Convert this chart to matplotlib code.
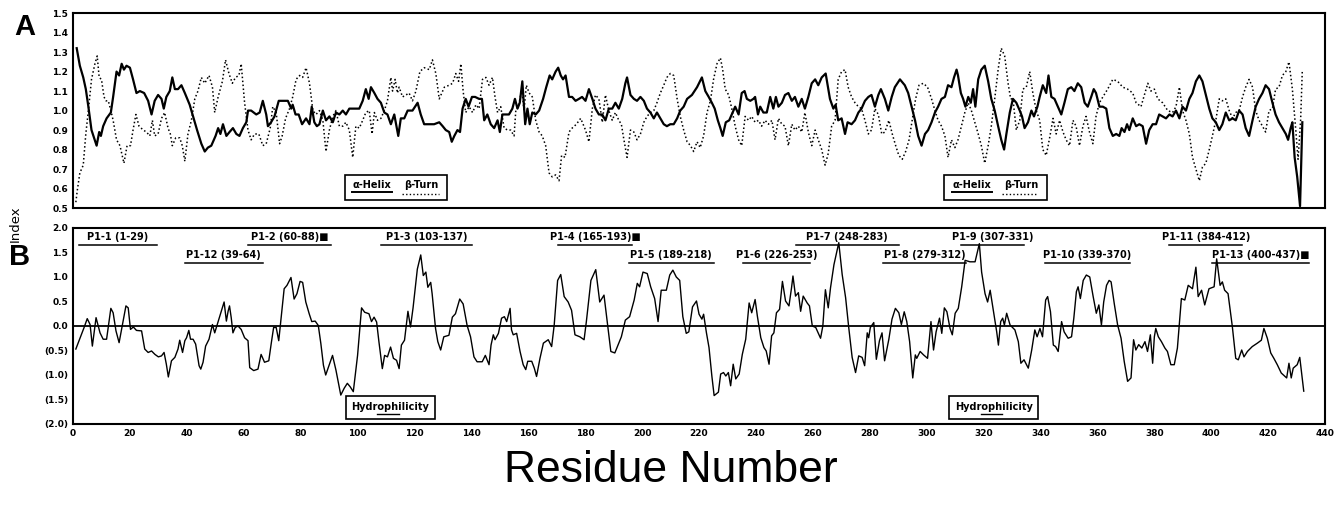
import numpy as np
import matplotlib.pyplot as plt
from matplotlib.patches import Rectangle
from matplotlib.lines import Line2D

# ---- data (residue, index) ----
helix = [
    (1.3, 1.32), (2.4, 1.23), (3.6, 1.17), (4.5, 1.11), (5.4, 1.02), (6.5, 0.90), (7.4, 0.86), (8.3, 0.82),
    (9.2, 0.89), (9.8, 0.87), (10.6, 0.92), (11.8, 0.96), (13.3, 0.99), (14.1, 1.07), (15.3, 1.20), (16.2, 1.18),
    (17.1, 1.24), (17.9, 1.21), (18.8, 1.23), (20.0, 1.22), (21.1, 1.16), (22.3, 1.09), (23.5, 1.10), (25.0, 1.09),
    (26.4, 1.05), (27.6, 0.98), (28.7, 1.05), (29.9, 1.08), (31.1, 1.06), (31.9, 1.01), (32.8, 1.07), (34.0, 1.10),
    (34.9, 1.17), (35.8, 1.11), (36.9, 1.11), (38.1, 1.13), (39.3, 1.09), (41.0, 1.03), (42.2, 0.97), (43.6, 0.90),
    (45.1, 0.83), (46.3, 0.79), (47.4, 0.81), (48.6, 0.82), (50.1, 0.87), (51.0, 0.91), (51.8, 0.88), (52.7, 0.93),
    (53.9, 0.87), (55.0, 0.89), (56.2, 0.91), (57.4, 0.88), (58.5, 0.87), (59.7, 0.91), (60.9, 0.94), (61.5, 1.00),
    (62.6, 1.00), (64.4, 0.98), (65.6, 0.99), (66.7, 1.05), (67.9, 0.98), (68.5, 0.92), (69.6, 0.94), (70.8, 0.97),
    (72.3, 1.05), (73.7, 1.05), (75.5, 1.05), (76.7, 1.01), (77.2, 1.03), (78.2, 0.98), (79.3, 0.98), (80.5, 0.93),
    (81.9, 0.96), (83.1, 0.93), (83.9, 1.02), (84.8, 0.94), (85.7, 0.92), (86.6, 0.93), (87.8, 1.00), (88.9, 0.95),
    (90.1, 0.97), (91.3, 0.94), (92.4, 0.99), (93.6, 0.98), (94.8, 1.00), (95.9, 0.98), (97.1, 1.01), (98.9, 1.01),
    (100.6, 1.01), (101.8, 1.05), (102.9, 1.11), (103.9, 1.06), (104.7, 1.12), (105.9, 1.09), (107.0, 1.06),
    (108.2, 1.04), (109.4, 0.99), (110.5, 0.98), (111.7, 0.93), (112.9, 0.98), (114.3, 0.87), (115.2, 0.96),
    (116.4, 0.96), (117.6, 1.00), (119.3, 1.00), (121.1, 1.04), (122.2, 0.98), (123.4, 0.93), (125.2, 0.93),
    (126.9, 0.93), (128.7, 0.94), (129.9, 0.92), (131.0, 0.90), (132.2, 0.89), (133.1, 0.84), (134.0, 0.87),
    (135.1, 0.90), (136.0, 0.89), (136.9, 1.01), (138.0, 1.06), (139.0, 1.02), (140.2, 1.07), (141.3, 1.07),
    (142.7, 1.06), (143.7, 1.06), (144.5, 0.95), (145.6, 0.98), (146.8, 0.93), (148.0, 0.91), (149.2, 0.95),
    (150.0, 0.89), (150.9, 0.98), (152.1, 0.98), (153.2, 0.98), (154.4, 1.01), (155.3, 1.06), (156.2, 1.01),
    (157.0, 1.04), (157.9, 1.15), (158.9, 0.93), (159.7, 1.01), (160.5, 0.93), (161.4, 0.99), (162.6, 0.98),
    (163.8, 1.00), (165.2, 1.06), (166.3, 1.12), (167.5, 1.18), (168.4, 1.16), (169.6, 1.20), (170.5, 1.22),
    (171.4, 1.18), (172.2, 1.16), (173.1, 1.18), (174.3, 1.07), (175.4, 1.07), (176.6, 1.05), (177.8, 1.06),
    (178.9, 1.07), (180.1, 1.05), (181.3, 1.11), (182.5, 1.06), (183.6, 1.01), (184.8, 0.98), (186.0, 0.98),
    (187.1, 0.95), (188.3, 1.01), (189.5, 1.01), (190.6, 1.04), (191.8, 1.01), (193.0, 1.06), (194.1, 1.14),
    (194.7, 1.17), (195.9, 1.08), (197.1, 1.06), (198.2, 1.05), (199.4, 1.07), (200.6, 1.05), (201.7, 1.01),
    (202.9, 0.99), (204.1, 0.96), (205.2, 0.99), (206.4, 0.96), (207.6, 0.93), (208.7, 0.92), (209.9, 0.93),
    (211.1, 0.93), (212.3, 0.96), (213.4, 1.00), (214.6, 1.02), (215.8, 1.06), (217.5, 1.08), (219.3, 1.12),
    (221.0, 1.17), (222.2, 1.10), (223.4, 1.07), (224.5, 1.04), (225.5, 1.01), (226.6, 0.95), (227.5, 0.91),
    (228.3, 0.87), (229.4, 0.94), (230.6, 0.95), (231.5, 0.98), (232.7, 1.02), (233.9, 0.98), (235.0, 1.09),
    (236.0, 1.10), (236.8, 1.06), (238.0, 1.05), (239.1, 1.06), (239.7, 1.07), (240.7, 0.98), (241.5, 1.02),
    (242.6, 0.99), (243.8, 0.99), (245.0, 1.07), (246.1, 1.01), (247.0, 1.07), (247.9, 1.02), (249.1, 1.04),
    (250.2, 1.08), (251.4, 1.09), (252.6, 1.05), (253.7, 1.07), (254.9, 1.02), (256.1, 1.06), (257.2, 1.01),
    (258.4, 1.07), (259.6, 1.14), (260.8, 1.16), (261.9, 1.13), (263.1, 1.17), (264.5, 1.19), (266.0, 1.06),
    (267.2, 1.01), (268.0, 1.03), (268.9, 0.95), (270.1, 0.96), (271.3, 0.88), (272.2, 0.94), (273.6, 0.93),
    (274.8, 0.95), (276.0, 0.99), (277.1, 1.01), (278.3, 1.05), (279.5, 1.07), (280.6, 1.08), (281.8, 1.02),
    (283.0, 1.08), (283.9, 1.11), (285.3, 1.06), (286.5, 1.00), (287.7, 1.07), (288.8, 1.12), (290.6, 1.16),
    (292.3, 1.13), (293.5, 1.09), (294.7, 1.02), (295.9, 0.95), (297.0, 0.87), (298.2, 0.82), (299.4, 0.88),
    (300.5, 0.90), (301.7, 0.94), (302.9, 0.99), (304.0, 1.02), (305.2, 1.06), (306.4, 1.07), (307.5, 1.13),
    (308.7, 1.12), (309.6, 1.17), (310.5, 1.21), (311.0, 1.18), (312.0, 1.09), (312.8, 1.06), (313.6, 1.02),
    (314.6, 1.07), (315.5, 1.04), (316.3, 1.11), (317.1, 1.02), (318.1, 1.16), (319.2, 1.21), (320.4, 1.23),
    (321.6, 1.15), (322.7, 1.06), (323.9, 1.00), (325.1, 0.92), (326.2, 0.85), (327.2, 0.80), (328.0, 0.88),
    (329.2, 0.99), (330.3, 1.06), (331.5, 1.04), (332.7, 1.00), (333.5, 0.97), (334.4, 0.91), (335.6, 0.94),
    (336.8, 1.00), (337.7, 0.97), (338.9, 1.02), (339.7, 1.07), (340.8, 1.13), (342.0, 1.09), (342.8, 1.18),
    (343.8, 1.07), (344.9, 1.06), (346.1, 1.02), (347.3, 0.98), (348.4, 1.04), (349.6, 1.11), (350.8, 1.12),
    (351.9, 1.10), (353.1, 1.14), (354.3, 1.12), (355.5, 1.04), (356.6, 1.02), (357.8, 1.07), (358.7, 1.11),
    (359.5, 1.09), (360.7, 1.02), (361.9, 1.02), (363.1, 1.01), (364.2, 0.91), (365.4, 0.87), (366.6, 0.88),
    (367.7, 0.87), (368.5, 0.91), (369.5, 0.89), (370.4, 0.93), (371.2, 0.90), (372.4, 0.96), (373.6, 0.92),
    (374.7, 0.93), (375.9, 0.92), (377.1, 0.83), (378.2, 0.90), (379.4, 0.93), (380.6, 0.93), (381.7, 0.98),
    (382.9, 0.97), (384.1, 0.96), (385.3, 0.98), (386.4, 0.97), (387.6, 1.00), (388.8, 0.96), (389.9, 1.02),
    (391.1, 1.00), (392.3, 1.06), (393.4, 1.09), (394.6, 1.15), (395.8, 1.18), (396.9, 1.15), (398.1, 1.08),
    (399.3, 1.01), (400.4, 0.96), (401.6, 0.94), (402.8, 0.90), (403.9, 0.93), (405.1, 0.99), (406.3, 0.95),
    (407.5, 0.96), (408.6, 0.95), (409.8, 1.00), (411.0, 0.98), (412.1, 0.91), (413.3, 0.87), (414.5, 0.95),
    (415.6, 1.02), (416.8, 1.06), (418.0, 1.09), (419.1, 1.13), (420.3, 1.11), (421.5, 1.04), (422.6, 0.98),
    (423.8, 0.94), (425.0, 0.91), (426.2, 0.88), (427.0, 0.85), (427.9, 0.91), (428.5, 0.94), (429.3, 0.76),
    (430.2, 0.66), (431.2, 0.51), (432.0, 0.94),
]

turn = [
    (1.0, 0.53), (1.5, 0.59), (2.4, 0.68), (3.6, 0.72), (4.5, 0.88), (5.4, 1.00), (6.5, 1.16), (7.7, 1.24),
    (8.5, 1.28), (9.2, 1.17), (10.0, 1.16), (10.9, 1.07), (11.6, 1.05), (12.4, 1.05), (13.3, 1.00), (14.1, 0.95),
    (15.3, 0.85), (16.5, 0.82), (17.9, 0.73), (19.0, 0.82), (20.2, 0.82), (21.1, 0.90), (22.1, 0.98), (23.2, 0.92),
    (24.7, 0.90), (25.8, 0.89), (27.0, 0.87), (27.9, 0.95), (28.7, 0.87), (29.9, 0.88), (31.1, 0.96), (32.2, 0.99),
    (33.4, 0.91), (34.2, 0.88), (34.9, 0.82), (36.1, 0.86), (37.5, 0.86), (38.4, 0.82), (39.3, 0.74), (40.4, 0.88),
    (41.6, 0.95), (42.8, 1.06), (43.9, 1.10), (45.1, 1.17), (46.3, 1.14), (47.8, 1.18), (49.0, 1.12), (49.8, 0.99),
    (51.0, 1.07), (52.5, 1.15), (53.6, 1.26), (54.8, 1.19), (56.0, 1.14), (57.1, 1.17), (58.3, 1.18), (59.1, 1.24),
    (60.3, 1.04), (61.5, 0.90), (62.6, 0.85), (63.8, 0.88), (65.3, 0.88), (66.7, 0.82), (67.9, 0.83), (69.3, 0.91),
    (70.2, 1.02), (71.4, 0.99), (72.6, 0.83), (73.5, 0.87), (74.7, 0.96), (76.1, 1.01), (77.2, 1.07), (78.4, 1.16),
    (79.6, 1.18), (80.7, 1.17), (81.9, 1.22), (83.1, 1.14), (84.3, 1.00), (85.4, 0.98), (86.6, 1.00), (87.8, 0.95),
    (88.9, 0.79), (90.1, 0.90), (91.3, 0.97), (92.4, 1.00), (93.6, 0.92), (94.8, 0.92), (95.9, 0.94), (97.1, 0.90),
    (98.3, 0.76), (99.4, 0.92), (100.6, 0.91), (101.8, 0.95), (102.9, 0.99), (104.1, 1.00), (105.1, 0.88),
    (105.9, 0.99), (107.0, 0.95), (108.2, 0.96), (109.4, 1.00), (110.5, 1.05), (111.7, 1.17), (112.3, 1.10),
    (113.2, 1.16), (114.0, 1.09), (114.6, 1.12), (115.8, 1.07), (117.0, 1.08), (118.1, 1.09), (119.3, 1.05),
    (120.5, 1.10), (121.9, 1.20), (123.4, 1.22), (125.2, 1.21), (126.3, 1.26), (127.5, 1.19), (128.7, 1.06),
    (130.5, 1.12), (132.2, 1.13), (133.4, 1.14), (134.5, 1.19), (135.5, 1.15), (136.3, 1.24), (137.1, 1.10),
    (138.0, 0.99), (139.2, 1.02), (140.4, 0.99), (141.6, 1.03), (142.7, 1.01), (143.9, 1.16), (145.1, 1.17),
    (146.2, 1.13), (147.4, 1.17), (148.3, 1.07), (149.2, 0.99), (150.3, 1.02), (151.5, 0.91), (152.7, 0.90),
    (153.8, 0.90), (155.0, 0.87), (155.6, 1.00), (156.7, 1.03), (157.7, 1.11), (158.5, 1.00), (159.3, 1.13),
    (160.3, 1.09), (161.4, 1.07), (162.6, 0.95), (163.8, 0.89), (164.9, 0.87), (166.1, 0.82), (167.3, 0.68),
    (168.4, 0.66), (169.6, 0.67), (170.8, 0.64), (171.7, 0.77), (172.9, 0.76), (174.3, 0.89), (175.4, 0.91),
    (176.9, 0.93), (178.4, 0.96), (180.1, 0.90), (181.3, 0.84), (182.5, 1.01), (183.6, 1.08), (184.8, 1.06),
    (186.0, 0.94), (187.1, 1.08), (188.3, 1.00), (189.5, 0.95), (190.6, 0.99), (191.8, 0.95), (192.7, 0.93),
    (193.6, 0.85), (194.7, 0.76), (195.9, 0.90), (197.1, 0.89), (198.2, 0.85), (199.4, 0.88), (200.6, 0.94),
    (201.7, 0.97), (202.9, 0.99), (204.1, 1.00), (205.2, 1.04), (206.4, 1.09), (207.6, 1.13), (208.7, 1.17),
    (209.9, 1.19), (211.1, 1.18), (212.3, 1.06), (213.4, 0.97), (214.6, 0.90), (215.8, 0.84), (217.0, 0.82),
    (218.1, 0.79), (219.3, 0.84), (220.4, 0.81), (221.6, 0.87), (222.8, 0.99), (224.0, 1.05), (225.1, 1.16),
    (226.3, 1.24), (227.5, 1.27), (228.3, 1.21), (229.2, 1.11), (230.4, 1.08), (231.5, 1.01), (232.7, 0.92),
    (233.9, 0.85), (235.0, 0.82), (236.2, 0.97), (237.4, 0.95), (238.5, 0.97), (239.7, 0.94), (240.9, 0.95),
    (242.0, 0.92), (243.2, 0.95), (244.4, 0.93), (245.6, 0.95), (246.7, 0.85), (247.9, 0.96), (249.1, 0.93),
    (250.2, 0.92), (251.4, 0.82), (252.6, 0.93), (253.7, 0.90), (254.9, 0.92), (256.1, 0.89), (257.2, 0.99),
    (258.4, 0.89), (259.6, 0.82), (260.8, 0.90), (261.9, 0.85), (263.1, 0.80), (264.3, 0.72), (265.4, 0.78),
    (266.6, 0.92), (267.8, 0.95), (268.9, 1.16), (270.1, 1.20), (271.3, 1.21), (272.4, 1.12), (273.6, 1.07),
    (274.8, 1.04), (276.0, 1.02), (277.1, 1.01), (278.3, 0.95), (279.5, 0.88), (280.6, 0.90), (281.8, 1.01),
    (283.0, 0.98), (284.2, 0.88), (285.3, 0.89), (286.7, 0.95), (287.9, 0.88), (289.1, 0.82), (290.2, 0.77),
    (291.4, 0.75), (292.6, 0.79), (293.8, 0.85), (294.9, 0.95), (296.1, 1.06), (297.3, 1.13), (298.8, 1.14),
    (300.3, 1.12), (301.7, 1.06), (302.9, 1.00), (304.0, 0.95), (305.2, 0.92), (306.4, 0.87), (307.5, 0.76),
    (308.7, 0.85), (309.9, 0.81), (311.0, 0.85), (312.2, 0.92), (313.4, 0.99), (314.6, 1.04), (315.7, 1.00),
    (316.9, 0.94), (318.1, 0.88), (319.2, 0.82), (320.4, 0.73), (321.6, 0.82), (322.7, 0.92), (323.9, 1.06),
    (325.1, 1.21), (326.2, 1.32), (327.4, 1.28), (328.6, 1.14), (329.5, 1.06), (330.3, 1.06), (331.5, 0.90),
    (332.7, 0.95), (333.8, 1.11), (335.0, 1.12), (336.2, 1.20), (337.3, 1.09), (338.5, 1.00), (339.7, 0.95),
    (340.8, 0.80), (342.0, 0.77), (343.2, 0.86), (344.4, 0.96), (345.5, 0.88), (346.7, 0.95), (347.9, 0.89),
    (349.0, 0.85), (350.2, 0.82), (351.4, 0.95), (352.5, 0.92), (353.7, 0.82), (354.9, 0.92), (356.0, 0.97),
    (357.2, 0.89), (358.4, 0.83), (359.5, 0.97), (360.7, 1.04), (361.9, 1.07), (363.6, 1.11), (365.4, 1.16),
    (367.1, 1.15), (368.9, 1.12), (370.6, 1.11), (372.4, 1.09), (373.6, 1.04), (375.3, 1.02), (376.5, 1.08),
    (377.7, 1.14), (378.8, 1.10), (380.0, 1.11), (381.2, 1.06), (382.9, 1.04), (384.7, 1.00), (386.4, 0.99),
    (387.6, 1.02), (388.8, 1.12), (389.9, 1.00), (391.1, 0.95), (392.3, 0.88), (393.4, 0.76), (394.6, 0.70),
    (395.8, 0.64), (396.9, 0.71), (398.1, 0.73), (399.3, 0.80), (400.4, 0.87), (401.6, 0.95), (402.8, 1.06),
    (403.9, 1.05), (405.1, 1.06), (406.3, 1.00), (407.5, 0.96), (408.6, 0.99), (409.8, 1.00), (411.0, 1.07),
    (412.1, 1.12), (413.3, 1.16), (414.5, 1.12), (415.6, 1.00), (416.8, 0.95), (418.0, 0.92), (419.1, 0.89),
    (420.3, 1.00), (421.5, 1.01), (422.6, 1.11), (423.8, 1.12), (425.0, 1.18), (426.2, 1.20), (427.3, 1.25),
    (428.5, 1.11), (429.7, 0.90), (430.5, 0.75), (431.4, 0.95), (432.0, 1.21),
]

hydro = [
    (1.0, -0.47), (2.5, -0.24), (3.9, -0.03), (5.0, 0.15), (6.0, 0.03), (6.8, -0.41), (8.1, 0.17), (9.5, -0.14),
    (10.6, -0.27), (11.8, -0.27), (13.3, 0.36), (14.1, 0.27), (15.1, -0.10), (16.2, -0.34), (17.4, 0.03),
    (18.6, 0.41), (19.4, 0.37), (20.2, -0.07), (21.2, -0.02), (22.3, -0.09), (24.1, -0.10), (25.2, -0.47),
    (26.4, -0.54), (27.6, -0.51), (28.8, -0.58), (30.0, -0.63), (31.1, -0.61), (32.0, -0.54), (32.8, -0.78),
    (33.5, -1.04), (34.6, -0.71), (35.8, -0.64), (36.9, -0.47), (37.5, -0.29), (38.5, -0.54), (39.3, -0.30),
    (39.9, -0.24), (40.7, -0.09), (41.3, -0.27), (42.2, -0.27), (43.1, -0.37), (44.3, -0.81), (44.9, -0.88),
    (45.7, -0.74), (46.6, -0.41), (47.8, -0.27), (49.0, 0.03), (49.8, -0.14), (50.7, 0.03), (52.1, 0.30),
    (53.1, 0.49), (53.9, 0.10), (54.5, 0.30), (55.0, 0.41), (55.6, 0.17), (56.2, -0.14), (57.0, -0.03),
    (58.0, 0.00), (59.1, -0.07), (60.3, -0.24), (61.5, -0.30), (62.1, -0.85), (63.5, -0.91), (65.0, -0.88),
    (66.1, -0.58), (67.3, -0.74), (68.8, -0.71), (69.7, -0.34), (70.5, -0.03), (71.4, -0.03), (72.3, -0.30),
    (73.0, 0.09), (74.2, 0.76), (75.2, 0.83), (76.6, 0.99), (77.7, 0.55), (78.7, 0.66), (79.8, 0.91),
    (80.7, 0.89), (81.8, 0.49), (83.0, 0.25), (83.9, 0.09), (85.1, 0.10), (86.2, 0.01), (87.1, -0.36),
    (88.0, -0.80), (88.8, -1.00), (90.0, -0.80), (91.2, -0.60), (92.4, -0.90), (94.1, -1.41), (95.3, -1.27),
    (96.4, -1.17), (97.4, -1.24), (98.5, -1.34), (100.0, -0.60), (101.4, 0.37), (102.5, 0.28), (104.0, 0.25),
    (104.9, 0.09), (105.8, 0.18), (106.7, 0.08), (107.5, -0.32), (108.7, -0.87), (109.5, -0.60), (110.5, -0.63),
    (111.6, -0.43), (112.6, -0.66), (113.7, -0.70), (114.6, -0.87), (115.4, -0.39), (116.5, -0.29), (117.7, 0.30),
    (118.6, -0.02), (119.5, 0.37), (121.0, 1.16), (122.2, 1.45), (123.1, 1.03), (124.0, 1.10), (124.7, 0.79),
    (125.7, 0.89), (126.2, 0.66), (127.4, -0.05), (128.2, -0.32), (129.2, -0.49), (130.3, -0.22), (132.1, -0.19),
    (133.3, 0.18), (134.4, 0.25), (135.9, 0.55), (137.1, 0.45), (138.5, 0.01), (139.7, -0.22), (140.9, -0.63),
    (142.0, -0.73), (143.8, -0.73), (144.9, -0.60), (146.2, -0.79), (146.9, -0.39), (147.7, -0.18), (148.3, -0.28),
    (149.5, -0.15), (150.6, 0.16), (151.6, 0.19), (152.4, 0.09), (153.6, 0.36), (154.1, -0.08), (154.7, -0.18),
    (155.9, -0.15), (157.1, -0.52), (158.2, -0.79), (159.1, -0.89), (159.8, -0.72), (161.2, -0.72), (162.1, -0.86),
    (162.9, -1.03), (164.1, -0.66), (165.3, -0.35), (167.0, -0.28), (168.2, -0.42), (169.1, 0.02), (170.3, 0.93),
    (171.4, 1.05), (172.6, 0.60), (174.0, 0.49), (175.2, 0.32), (176.4, -0.18), (178.1, -0.22), (179.6, -0.28),
    (180.4, 0.09), (182.0, 0.93), (183.7, 1.15), (185.1, 0.49), (186.6, 0.63), (188.0, -0.05), (189.0, -0.52),
    (190.4, -0.55), (191.5, -0.39), (192.7, -0.22), (194.1, 0.12), (195.6, 0.19), (197.2, 0.53), (198.3, 0.87),
    (199.1, 0.80), (200.3, 1.10), (201.8, 1.07), (203.0, 0.80), (204.4, 0.56), (205.6, 0.09), (206.7, 0.73),
    (208.5, 0.73), (209.7, 1.04), (210.8, 1.14), (212.0, 1.00), (213.2, 0.93), (214.3, 0.19), (215.5, -0.15),
    (216.4, -0.12), (217.7, 0.39), (219.1, 0.51), (220.0, 0.24), (221.0, 0.14), (221.6, 0.24), (222.6, -0.14),
    (223.5, -0.44), (224.5, -1.02), (225.3, -1.42), (226.8, -1.35), (227.6, -0.98), (228.6, -0.95), (229.4, -1.02),
    (230.3, -0.95), (231.1, -1.22), (232.0, -0.78), (232.9, -1.08), (234.1, -0.98), (235.2, -0.58), (236.4, -0.27),
    (237.6, 0.47), (238.5, 0.27), (239.7, 0.54), (240.5, 0.20), (241.7, -0.24), (242.8, -0.44), (243.6, -0.51),
    (244.6, -0.78), (245.5, -0.20), (246.3, -0.14), (247.2, 0.27), (248.3, 0.34), (249.3, 0.91), (250.4, 0.51),
    (251.6, 0.41), (252.5, 0.78), (253.0, 1.02), (253.9, 0.61), (254.9, 0.68), (255.7, 0.30), (256.6, 0.61),
    (258.0, 0.47), (258.8, 0.41), (259.8, 0.00), (261.0, -0.03), (262.1, -0.17), (262.7, -0.25), (263.5, 0.00),
    (264.4, 0.74), (265.4, 0.37), (266.2, 0.78), (267.4, 1.25), (268.3, 1.49), (269.1, 1.70), (270.3, 1.05),
    (271.5, 0.58), (272.6, -0.03), (273.8, -0.64), (275.0, -0.95), (276.1, -0.61), (277.3, -0.64), (278.2, -0.81),
    (279.1, -0.14), (279.6, -0.24), (280.2, -0.03), (281.4, 0.07), (282.3, -0.68), (283.4, -0.30), (284.3, -0.14),
    (285.2, -0.71), (286.7, -0.27), (287.8, 0.14), (289.0, 0.36), (290.2, 0.27), (291.1, 0.03), (292.1, 0.29),
    (293.0, 0.09), (294.0, -0.32), (295.1, -1.06), (296.0, -0.59), (296.5, -0.66), (297.7, -0.52), (298.9, -0.59),
    (300.3, -0.66), (301.5, 0.09), (302.4, -0.49), (303.3, -0.12), (304.5, 0.16), (305.3, -0.15), (306.2, 0.37),
    (307.1, 0.29), (308.2, -0.05), (309.0, -0.18), (310.0, 0.26), (311.1, 0.36), (312.3, 0.80), (313.5, 1.34),
    (315.2, 1.31), (317.0, 1.31), (318.5, 1.68), (319.3, 1.10), (320.5, 0.66), (321.4, 0.49), (322.3, 0.73),
    (323.4, 0.32), (324.6, -0.12), (325.2, -0.39), (326.0, 0.09), (326.7, 0.16), (327.3, 0.02), (328.1, 0.26),
    (329.3, 0.02), (331.0, -0.08), (332.2, -0.32), (333.1, -0.76), (334.2, -0.69), (335.7, -0.86), (336.9, -0.49),
    (338.0, -0.08), (338.8, -0.22), (339.8, -0.05), (340.7, -0.22), (341.8, 0.53), (342.5, 0.60), (343.5, 0.29),
    (344.5, -0.39), (345.3, -0.42), (346.2, -0.52), (347.4, 0.09), (348.3, -0.12), (349.7, -0.25), (350.9, -0.22),
    (351.7, 0.16), (352.6, 0.70), (353.2, 0.80), (354.0, 0.56), (355.0, 0.93), (356.1, 1.04), (357.3, 1.00),
    (358.5, 0.60), (359.6, 0.26), (360.5, 0.43), (361.4, 0.02), (362.2, 0.49), (363.2, 0.83), (364.1, 0.93),
    (364.8, 0.90), (365.9, 0.46), (367.1, 0.02), (368.3, -0.25), (369.4, -0.72), (370.6, -1.13), (371.8, -1.06),
    (372.7, -0.28), (373.5, -0.49), (374.5, -0.38), (375.6, -0.45), (376.7, -0.32), (377.6, -0.52), (378.6, -0.18),
    (379.4, -0.76), (380.0, -0.22), (380.5, -0.05), (381.4, -0.22), (382.5, -0.32), (383.7, -0.45), (384.6, -0.52),
    (385.8, -0.79), (387.0, -0.79), (388.1, -0.45), (389.5, 0.56), (390.7, 0.53), (391.9, 0.83), (393.4, 0.76),
    (394.6, 1.20), (395.4, 0.60), (396.6, 0.73), (397.7, 0.43), (399.2, 0.76), (401.0, 0.80), (401.9, 1.37),
    (403.1, 0.83), (403.9, 0.90), (404.7, 0.73), (405.9, 0.66), (407.4, -0.01), (408.6, -0.66), (409.5, -0.69),
    (410.7, -0.49), (411.5, -0.63), (412.7, -0.52), (414.4, -0.42), (416.2, -0.35), (417.6, -0.29), (418.5, -0.05),
    (419.7, -0.25), (420.9, -0.55), (422.0, -0.66), (423.2, -0.79), (424.6, -0.96), (426.5, -1.06), (427.3, -0.76),
    (428.1, -1.06), (428.8, -0.86), (430.2, -0.79), (431.1, -0.64), (432.5, -1.33),
]

# peptides: label, marked with a square, row (0 = upper, 1 = lower)
pep_labels = ["P1-1 (1-29)", "P1-12 (39-64)", "P1-2 (60-88)", "P1-3 (103-137)", "P1-4 (165-193)",
              "P1-5 (189-218)", "P1-6 (226-253)", "P1-7 (248-283)", "P1-8 (279-312)", "P1-9 (307-331)",
              "P1-10 (339-370)", "P1-11 (384-412)", "P1-13 (400-437)"]
pep_marked = [False, False, True, False, True, False, False, False, False, False, False, False, True]
pep_row = [0, 1, 0, 0, 0, 1, 1, 0, 1, 0, 1, 0, 1]
# where the underline bars sit on the printed axis
pep_spans = [(2, 29.5), (39.3, 66.6), (61.4, 90.8), (108.3, 140.3), (170.4, 196.4), (195.3, 225.1),
             (235.3, 259.1), (253.9, 290.3), (284.7, 313.8), (312.1, 334.2), (341.5, 371.3),
             (385.3, 410.9), (400.4, 434.4)]

a_ticks = [0.5, 0.6, 0.7, 0.8, 0.9, 1.0, 1.1, 1.2, 1.3, 1.4, 1.5]
b_ticks = [2.0, 1.5, 1.0, 0.5, 0.0, -0.5, -1.0, -1.5, -2.0]
b_ticklabels = ["2.0", "1.5", "1.0", "0.5", "0.0", "(0.5)", "(1.0)", "(1.5)", "(2.0)"]
x_ticks = list(range(0, 441, 20))

# ---- figure ----
plt.rcParams["font.family"] = "DejaVu Sans"
fig = plt.figure(figsize=(13.42, 5.15), dpi=100)
axA = fig.add_axes([0.0544, 0.596, 0.933, 0.3786])
axB = fig.add_axes([0.0544, 0.1767, 0.933, 0.3806])

hx, hy = zip(*helix)
tx, ty = zip(*turn)
bx, by = zip(*hydro)

axA.plot(hx, hy, color="black", lw=1.6, solid_joinstyle="round")
axA.plot(tx, ty, color="black", lw=1.1, linestyle=(0, (1, 1.6)))
axA.set_xlim(0, 440)
axA.set_ylim(0.5, 1.5)
axA.set_xticks([])
axA.set_yticks(a_ticks)
axA.set_yticklabels([f"{t:.1f}" for t in a_ticks])

axB.plot(bx, by, color="black", lw=1.0)
axB.axhline(0, color="black", lw=1.3)
axB.set_xlim(0, 440)
axB.set_ylim(-2.0, 2.0)
axB.set_yticks(b_ticks)
axB.set_yticklabels(b_ticklabels)
axB.set_xticks(x_ticks)

for ax in (axA, axB):
    for sp in ax.spines.values():
        sp.set_linewidth(1.5)
    ax.tick_params(length=0, labelsize=6.5, pad=3.5)
    for lab in ax.get_xticklabels() + ax.get_yticklabels():
        lab.set_fontweight("bold")

# legend boxes in panel A
for x0 in (0.217, 0.696):
    axA.add_patch(Rectangle((x0, 0.041), 0.082, 0.128, transform=axA.transAxes,
                            fill=False, lw=1.2, ec="black"))
    axA.text(x0 + 0.0215, 0.118, "α-Helix", transform=axA.transAxes, ha="center", va="center",
             fontsize=7, fontweight="bold")
    axA.add_line(Line2D([x0 + 0.006, x0 + 0.038], [0.080, 0.080], transform=axA.transAxes,
                        color="black", lw=1.4))
    axA.text(x0 + 0.061, 0.118, "β-Turn", transform=axA.transAxes, ha="center", va="center",
             fontsize=7, fontweight="bold")
    axA.add_line(Line2D([x0 + 0.046, x0 + 0.075], [0.070, 0.070], transform=axA.transAxes,
                        color="black", lw=1.0, linestyle=(0, (1, 1.6))))

# hydrophilicity boxes in panel B
for x0 in (0.218, 0.700):
    axB.add_patch(Rectangle((x0, 0.026), 0.071, 0.117, transform=axB.transAxes,
                            fill=False, lw=1.2, ec="black"))
    axB.text(x0 + 0.0355, 0.088, "Hydrophilicity", transform=axB.transAxes, ha="center",
             va="center", fontsize=7, fontweight="bold")
    axB.add_line(Line2D([x0 + 0.025, x0 + 0.042], [0.052, 0.052], transform=axB.transAxes,
                        color="black", lw=1.0))

# peptide labels
row_line = [1.66, 1.29]
for lab, mark, row, (s, e) in zip(pep_labels, pep_marked, pep_row, pep_spans):
    y = row_line[row]
    axB.plot([s, e], [y, y], color="black", lw=1.1)
    axB.text((s + e) / 2, y + 0.05, lab + ("\u25a0" if mark else ""), ha="center", va="bottom",
             fontsize=7, fontweight="bold")

fig.text(0.0186, 0.948, "A", fontsize=21, fontweight="bold", family="Liberation Sans",
         ha="center", va="center")
fig.text(0.0145, 0.501, "B", fontsize=21, fontweight="bold", family="Liberation Sans",
         ha="center", va="center")
fig.text(0.011, 0.565, "Index", rotation=90, fontsize=9.5, ha="center", va="center")
fig.text(0.5, 0.087, "Residue Number", fontsize=32, family="Liberation Sans",
         ha="center", va="center")

fig.savefig("out.png", dpi=100)
